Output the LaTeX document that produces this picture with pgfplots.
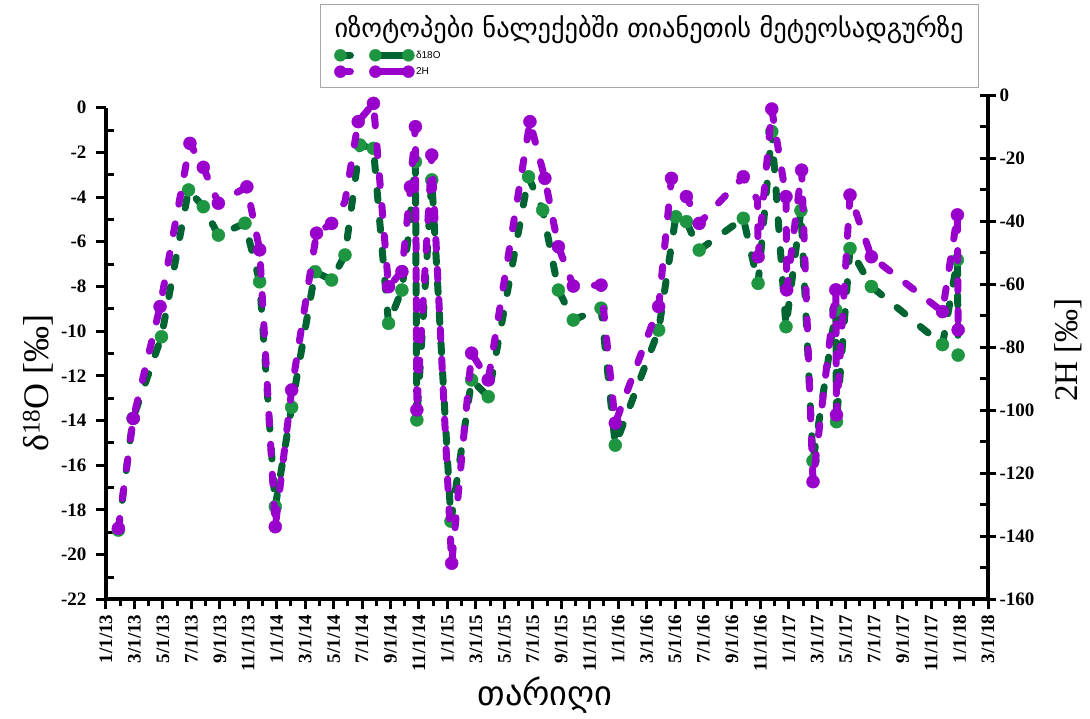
\documentclass[border=0pt]{standalone}
\usepackage{fontspec}
\setmainfont{Liberation Serif}
\newfontfamily\geo{DejaVu Sans}
\newfontfamily\lsans{Liberation Sans}
\usepackage{graphicx}
\usepackage{pgfplots}
\usepackage{pgfplotstable}
\pgfplotsset{compat=1.18}
\definecolor{purp}{RGB}{153,0,204}
\definecolor{gmark}{RGB}{30,150,65}
\definecolor{gline}{RGB}{0,100,50}

\pgfplotstableread{
m v
0.87 -18.9
1.9 -13.9
3.9 -10.25
5.8 -3.68
6.84 -4.43
7.9 -5.7
9.77 -5.17
10.8 -7.79
11.9 -17.85
13.05 -13.4
14.7 -7.34
15.86 -7.71
16.8 -6.59
17.85 -1.67
18.8 -1.82
19.86 -9.65
20.8 -8.16
21.3 -5.5
21.75 -2.42
21.85 -13.97
22.9 -3.23
24.25 -18.5
25.7 -12.18
26.87 -12.93
29.7 -3.09
30.7 -4.58
31.8 -8.16
32.85 -9.5
34.8 -8.97
35.8 -15.1
38.85 -9.95
40.05 -4.88
40.8 -5.1
41.7 -6.37
44.8 -4.95
45.84 -7.86
46.8 -1.07
47.8 -9.8
48.85 -4.6
49.7 -15.8
51.3 -9.05
51.35 -14.05
52.3 -6.3
53.8 -8.0
58.8 -10.6
59.85 -6.81
59.9 -11.07
}\tabG

\pgfplotstableread{
m v
0.87 -18.9
1.9 -13.9
3.9 -10.25
5.8 -3.68
6.84 -4.43
7.9 -5.7
9.77 -5.17
10.8 -7.79
11.9 -17.85
13.05 -13.4
14.7 -7.34
15.86 -7.71
16.8 -6.59
17.85 -1.67
18.8 -1.82
19.86 -9.65
20.8 -8.16
21.75 -2.42
21.85 -13.97
22.9 -3.23
24.25 -18.5
25.7 -12.18
26.87 -12.93
29.7 -3.09
30.7 -4.58
31.8 -8.16
32.85 -9.5
34.8 -8.97
35.8 -15.1
38.85 -9.95
40.05 -4.88
40.8 -5.1
41.7 -6.37
44.8 -4.95
45.84 -7.86
46.8 -1.07
47.8 -9.8
48.85 -4.6
49.7 -15.8
51.3 -9.05
51.35 -14.05
52.3 -6.3
53.8 -8.0
58.8 -10.6
59.85 -6.81
59.9 -11.07
}\mkG

\pgfplotstableread{
m h
0.87 -137.4
1.92 -102.5
3.8 -67
5.9 -15.2
6.84 -22.8
7.9 -34.2
9.9 -29
10.8 -49
11.9 -136.9
13.05 -93.5
14.8 -43.7
15.86 -40.6
16.8 -33.7
17.73 -8.3
18.8 -2.5
19.86 -60.7
20.8 -55.9
21.1 -42.7
21.4 -29
21.75 -9.9
21.85 -99.8
22.9 -18.9
24.3 -148.5
25.7 -81.8
26.87 -90.3
29.8 -8.3
30.85 -26.3
31.8 -48
32.85 -60.5
34.8 -60.2
35.8 -104
38.85 -67
39.75 -26.3
40.8 -32.1
41.7 -40.6
44.8 -25.8
45.8 -33.2
45.84 -51.2
46.8 -4.3
47.8 -32.1
47.85 -61.7
48.9 -23.7
49.7 -122.6
51.3 -61.7
51.35 -101.4
52.3 -31.6
53.8 -51.2
58.8 -68.6
59.85 -37.9
59.9 -74.4
}\tabP

\pgfplotstableread{
m h
0.87 -137.4
1.92 -102.5
3.8 -67
5.9 -15.2
6.84 -22.8
7.9 -34.2
9.9 -29
10.8 -49
11.9 -136.9
13.05 -93.5
14.8 -43.7
15.86 -40.6
17.73 -8.3
18.8 -2.5
19.86 -60.7
20.8 -55.9
21.4 -29
21.75 -9.9
21.85 -99.8
22.9 -18.9
24.3 -148.5
25.7 -81.8
26.87 -90.3
29.8 -8.3
30.85 -26.3
31.8 -48
32.85 -60.5
34.8 -60.2
35.8 -104
38.85 -67
39.75 -26.3
40.8 -32.1
41.7 -40.6
44.8 -25.8
45.84 -51.2
46.8 -4.3
47.8 -32.1
47.85 -61.7
48.9 -23.7
49.7 -122.6
51.3 -61.7
51.35 -101.4
52.3 -31.6
53.8 -51.2
58.8 -68.6
59.85 -37.9
59.9 -74.4
}\mkP

\pgfplotsset{myax/.style={
  scale only axis, xmin=0, xmax=62,
  axis line style={line width=4pt},
  every tick/.style={black, line width=3pt},
  /pgf/number format/assume math mode=true,
  clip=false,
}}

\begin{document}
\begin{tikzpicture}[x=1pt,y=1pt]
\useasboundingbox (0,0) rectangle (1090,719);
\draw[line width=1pt, black!35] (320,631) rectangle (978,714);
\node at (649,689) {\resizebox{629pt}{!}{\geo იზოტოპები ნალექებში თიანეთის მეტეოსადგურზე}};

\begin{axis}[myax,
  at={(106pt,119.6pt)}, anchor=south west, width=882pt, height=491.7pt,
  ymin=-22, ymax=0,
  axis x line*=bottom, axis y line*=left,
  xtick={0,2,...,62}, minor x tick num=1,
  xticklabels={1/1/13,3/1/13,5/1/13,7/1/13,9/1/13,11/1/13,1/1/14,3/1/14,5/1/14,7/1/14,9/1/14,11/1/14,1/1/15,3/1/15,5/1/15,7/1/15,9/1/15,11/1/15,1/1/16,3/1/16,5/1/16,7/1/16,9/1/16,11/1/16,1/1/17,3/1/17,5/1/17,7/1/17,9/1/17,11/1/17,1/1/18,3/1/18},
  ytick={-22,-20,...,0},
  tick align=outside, major tick length=10pt, minor tick length=7pt,
  extra y ticks={-21,-19,...,-1}, extra y tick labels={},
  extra y tick style={tick align=inside, major tick length=8pt},
  xticklabel style={rotate=90, anchor=east, font=\bfseries\fontsize{19}{19}\selectfont, inner sep=5pt},
  yticklabel style={font=\bfseries\fontsize{19}{19}\selectfont, xshift=-6pt},
  ylabel={δ\textsuperscript{18}O [‰]},
  ylabel style={at={(axis description cs:-0.077,0.44)}, anchor=center, font=\fontsize{36}{36}\selectfont},
  xlabel={\resizebox{135pt}{!}{\geo თარიღი}},
  xlabel style={at={(axis description cs:0.4977,-0.194)}, anchor=center},
]
\addplot[gline, line width=7pt, line cap=round, line join=round, dash pattern=on 10pt off 20pt, forget plot] table[x=m,y=v]{\tabG};
\addplot[only marks, mark=*, mark size=6.5pt, color=gmark, mark options={draw=gmark, fill=gmark}, forget plot] table[x=m,y=v]{\mkG};
\end{axis}

\begin{axis}[myax,
  at={(106pt,119.5pt)}, anchor=south west, width=882pt, height=504pt,
  ymin=-160, ymax=0,
  axis y line*=right, axis x line=none,
  ytick={-160,-140,...,0},
  tick align=center, major tick length=16pt,
  extra y ticks={-150,-130,...,-10}, extra y tick labels={},
  extra y tick style={tick align=inside, major tick length=8pt},
  yticklabel style={font=\bfseries\fontsize{19}{19}\selectfont},
  ylabel={2H [‰]},
  ylabel style={at={(axis description cs:1.0907,0.495)}, anchor=center, font=\fontsize{33}{33}\selectfont},
  legend cell align=left,
  legend style={at={(axis description cs:0.2585,1.0635)}, anchor=west, draw=none, fill=none,
    font=\lsans\fontsize{10}{10}\selectfont, row sep=4pt, inner sep=0pt, nodes={inner sep=1.5pt}},
]
\addlegendimage{legend image code/.code={
  \draw[gline, line width=7pt, line cap=round] (6pt,0pt) -- (16pt,0pt);
  \draw[gline, line width=7pt, line cap=round] (41pt,0pt) -- (74pt,0pt);
  \fill[gmark] (6pt,0pt) circle (6pt) (41pt,0pt) circle (6pt) (74pt,0pt) circle (6pt);
}}
\addlegendentry{δ18O}
\addlegendimage{legend image code/.code={
  \draw[purp, line width=7pt, line cap=round] (6pt,0pt) -- (16pt,0pt);
  \draw[purp, line width=7pt, line cap=round] (41pt,0pt) -- (74pt,0pt);
  \fill[purp] (6pt,0pt) circle (6pt) (41pt,0pt) circle (6pt) (74pt,0pt) circle (6pt);
}}
\addlegendentry{2H}
\addplot[purp, line width=7pt, line cap=round, line join=round, dash pattern=on 10pt off 20pt, forget plot] table[x=m,y=h]{\tabP};
\addplot[only marks, mark=*, mark size=6.5pt, color=purp, mark options={draw=purp, fill=purp}, forget plot] table[x=m,y=h]{\mkP};
\end{axis}
\end{tikzpicture}
\end{document}
